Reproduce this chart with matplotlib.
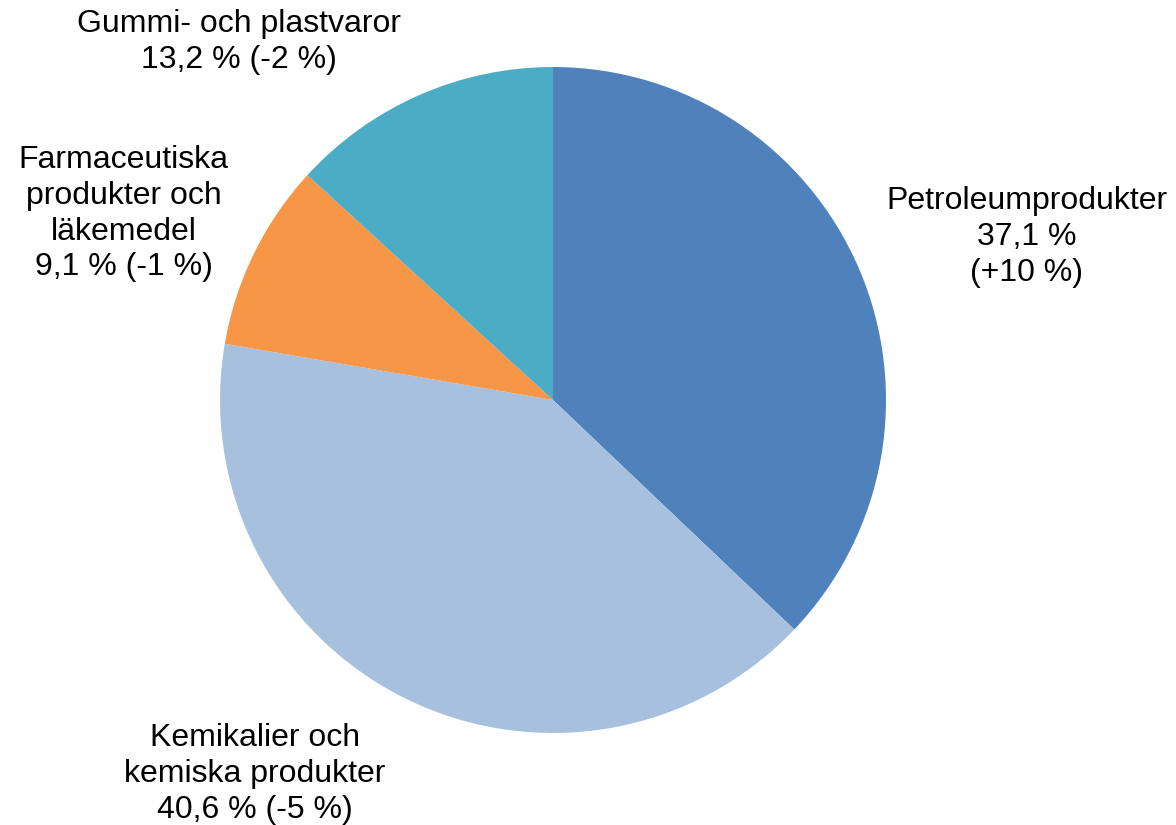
import matplotlib.pyplot as plt

plt.rcParams['font.family'] = ['Liberation Sans', 'DejaVu Sans']

# DATA
categories = ['Petroleumprodukter', 'Kemikalier och\nkemiska produkter',
              'Farmaceutiska\nprodukter och\nläkemedel', 'Gummi- och plastvaror']
shares = [37.1, 40.6, 9.1, 13.2]
changes = ['(+10 %)', '(-5 %)', '(-1 %)', '(-2 %)']
colors = ['#4F81BD', '#A7C0DE', '#F79646', '#4BACC6']

fig = plt.figure(figsize=(11.76, 8.25), dpi=100)
ax = fig.add_axes([0.1871, 0.1115, 0.5663, 0.8073])

ax.pie(shares, colors=colors, startangle=90, counterclock=False, radius=1,
       wedgeprops=dict(linewidth=0))
ax.set_xlim(-1, 1)
ax.set_ylim(-1, 1)
ax.set_aspect('equal')


def fmt(v):
    return '{:.1f}'.format(v).replace('.', ',') + ' %'


labels = [
    categories[0] + '\n' + fmt(shares[0]) + '\n' + changes[0],
    categories[1] + '\n' + fmt(shares[1]) + ' ' + changes[1],
    categories[2] + '\n' + fmt(shares[2]) + ' ' + changes[2],
    categories[3] + '\n' + fmt(shares[3]) + ' ' + changes[3],
]
# label centres in pie-radius units
label_pos = [(1.423, 0.489), (-0.895, -1.124), (-1.29, 0.56), (-0.943, 1.075)]

for lbl, (x, y) in zip(labels, label_pos):
    ax.text(x, y, lbl, ha='center', va='center', fontsize=23,
            linespacing=1.26, clip_on=False)

fig.savefig('out.png', dpi=100)
